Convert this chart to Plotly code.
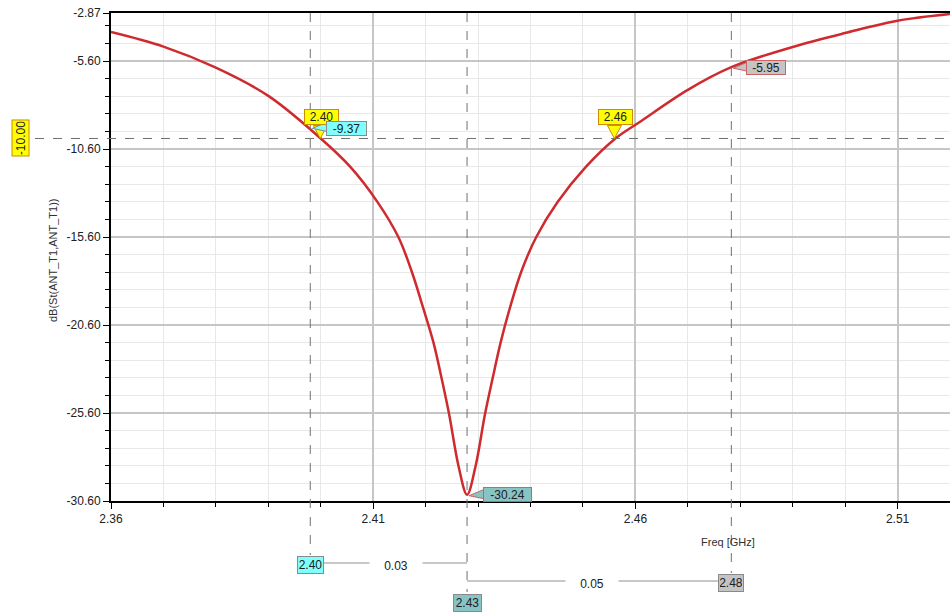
import plotly.graph_objects as go

# ---------------- data ----------------
freq_ghz = [2.36, 2.37, 2.38, 2.39, 2.40, 2.4056, 2.4108, 2.4148, 2.4174, 2.4195,
            2.4215, 2.4231, 2.4245, 2.4263, 2.4279, 2.4295, 2.4313, 2.4328, 2.4343,
            2.4361, 2.4382, 2.4411, 2.4452, 2.4506, 2.4562, 2.4609, 2.47, 2.4783,
            2.49, 2.50, 2.51, 2.52]
s11_db = [-3.95, -4.78, -5.98, -7.58, -10.00, -11.60, -13.60, -15.60, -17.60, -19.60,
          -21.60, -23.70, -25.70, -28.65, -30.24, -28.65, -25.70, -23.60, -21.60,
          -19.60, -17.60, -15.60, -13.60, -11.60, -10.00, -9.05, -7.24, -5.95,
          -4.80, -4.01, -3.31, -2.93]

x_tick_vals = [2.36, 2.41, 2.46, 2.51]
x_tick_text = ["2.36", "2.41", "2.46", "2.51"]
y_tick_vals = [-2.87, -5.60, -10.60, -15.60, -20.60, -25.60, -30.60]
y_tick_text = ["-2.87", "-5.60", "-10.60", "-15.60", "-20.60", "-25.60", "-30.60"]

level_db = -10.0
level_label = "-10.00"
crossing_freqs = [2.3999, 2.456]
crossing_labels = ["2.40", "2.46"]

marker_freqs = [2.398, 2.4279, 2.4783]
marker_db = [-9.37, -30.24, -5.95]
marker_freq_labels = ["2.40", "2.43", "2.48"]
marker_db_labels = ["-9.37", "-30.24", "-5.95"]
delta_labels = ["0.03", "0.05"]

# ---------------- layout constants ----------------
W, H = 950, 613
ML, MR, MT, MB = 111, 0, 13, 112
PLOT_H = H - MT - MB
FONT = "Liberation Sans, Arial, sans-serif"
YELLOW, YELLOW_EDGE = "#ffff00", "#d08a00"
CYAN, TEAL, GRAY = "#80ffff", "#88c4c4", "#c4c4c4"
RED_EDGE, GRAY_EDGE = "#c86464", "#8a8a8a"
DASH_COLOR = "#707070"

fig = go.Figure()
fig.add_trace(go.Scatter(x=freq_ghz, y=s11_db, mode="lines",
                         line=dict(color="#cf2a2e", width=2.5, shape="spline", smoothing=1.0),
                         hoverinfo="skip", showlegend=False))

shapes = []
annotations = []


def box(x, y, text, bg, edge, w, h, xref="x", yref="y", xshift=0, yshift=0, angle=0):
    annotations.append(dict(x=x, y=y, xref=xref, yref=yref, text=text, showarrow=False,
                            xanchor="center", yanchor="middle",
                            xshift=xshift, yshift=yshift, textangle=angle,
                            bgcolor=bg, bordercolor=edge, borderwidth=1, borderpad=1,
                            width=w, height=h, align="center", valign="middle",
                            font=dict(family=FONT, size=12, color="#202020")))


def pointer(x, y, path, fill, edge):
    shapes.append(dict(type="path", xref="x", yref="y", xsizemode="pixel", ysizemode="pixel",
                       xanchor=x, yanchor=y, path=path, fillcolor=fill,
                       line=dict(color=edge, width=1), layer="above"))


# dashed level line and its label
shapes.append(dict(type="line", xref="paper", yref="y", x0=-76 / (W - ML - MR), x1=1,
                   y0=level_db, y1=level_db, line=dict(color=DASH_COLOR, width=1, dash="dash")))
box(0, level_db, level_label, YELLOW, YELLOW_EDGE, 33, 14, xref="paper", xshift=-90, angle=-90)

# dashed vertical marker lines extending below the axis
drop_px = [-54, -91, -72]
for fx, d in zip(marker_freqs, drop_px):
    shapes.append(dict(type="line", xref="x", yref="paper", x0=fx, x1=fx, y0=1, y1=d / PLOT_H,
                       line=dict(color=DASH_COLOR, width=1, dash="dash")))

# yellow crossing callouts
for fx, lab in zip(crossing_freqs, crossing_labels):
    pointer(fx, level_db, "M -7 13 L 7 13 L 0 0 Z", YELLOW, YELLOW_EDGE)
    box(fx, level_db, lab, YELLOW, YELLOW_EDGE, 31, 12, xshift=1, yshift=21)

# marker value callouts
mk_colors = [CYAN, TEAL, GRAY]
mk_edges = [GRAY_EDGE, RED_EDGE, RED_EDGE]
mk_widths = [37, 45, 36]
mk_shift = [(36, -1), (40, 0), (35, 0)]
for fx, fy, lab, c, e, w, (sx, sy) in zip(marker_freqs, marker_db, marker_db_labels,
                                          mk_colors, mk_edges, mk_widths, mk_shift):
    lx = sx - (w + 4) / 2 + 1
    pointer(fx, fy, f"M {lx} 5 L {lx} -4 L 2 -1 Z", c, e)
    box(fx, fy, lab, c, e, w, 11, xshift=sx, yshift=sy)

# bottom frequency boxes
bottom_shift = [-63.5, -101.5, -81.5]
bottom_widths = [23, 25, 22]
for fx, lab, c, s, w in zip(marker_freqs, marker_freq_labels, mk_colors, bottom_shift, bottom_widths):
    box(fx, 0, lab, c, GRAY_EDGE, w, 14, yref="paper", yshift=s)

# delta lines with labels
deltas = [(marker_freqs[0], marker_freqs[1], -62, 7), (marker_freqs[1], marker_freqs[2], -80, -7)]
for (xa, xb, yp, dx), lab in zip(deltas, delta_labels):
    shapes.append(dict(type="line", xref="x", yref="paper", ysizemode="pixel", yanchor=0,
                       x0=xa, x1=xb, y0=yp, y1=yp, line=dict(color="#909090", width=1)))
    annotations.append(dict(x=(xa + xb) / 2, y=0, xref="x", yref="paper", text=lab,
                            showarrow=False, xanchor="center", yanchor="middle",
                            xshift=dx, yshift=yp - 3, bgcolor="white",
                            width=50, height=12,
                            font=dict(family=FONT, size=12, color="#202020")))

# axis titles
annotations.append(dict(x=0, y=0.5, xref="paper", yref="paper", text="dB(St(ANT_T1,ANT_T1))",
                        showarrow=False, textangle=-90, xanchor="center", yanchor="middle",
                        xshift=-58, yshift=-4,
                        font=dict(family=FONT, size=11, color="#303030")))
annotations.append(dict(x=(728 - ML) / (W - ML - MR), y=0, xref="paper", yref="paper",
                        text="Freq [GHz]", showarrow=False, xanchor="center", yanchor="middle",
                        yshift=-41, font=dict(family=FONT, size=11, color="#303030")))

axis_common = dict(showline=True, linecolor="black", linewidth=2, ticks="outside",
                   tickcolor="black", ticklen=6, tickwidth=1, showgrid=True,
                   gridcolor="#c6c6c6", gridwidth=1.5, zeroline=False, automargin=False,
                   tickfont=dict(family=FONT, size=12, color="#202020"))

fig.update_layout(
    width=W, height=H, margin=dict(l=ML, r=MR, t=MT, b=MB),
    paper_bgcolor="white", plot_bgcolor="white",
    xaxis=dict(range=[2.36, 2.52], tickvals=x_tick_vals, ticktext=x_tick_text, mirror=True,
               minor=dict(dtick=0.01, tick0=2.36, ticks="outside", ticklen=4, tickcolor="black",
                          showgrid=True, gridcolor="#e8e8e8", gridwidth=1),
               ticklabelstandoff=0, **axis_common),
    yaxis=dict(range=[-30.60, -2.87], tickvals=y_tick_vals, ticktext=y_tick_text,
               minor=dict(dtick=1, tick0=-0.6, ticks="outside", ticklen=4, tickcolor="black",
                          showgrid=True, gridcolor="#e8e8e8", gridwidth=1),
               **axis_common),
    shapes=shapes, annotations=annotations, showlegend=False,
)

fig.write_html("out.html", config={"displayModeBar": False},
               post_script="document.body.style.margin='0px';"
                           "document.documentElement.style.overflow='hidden';")
